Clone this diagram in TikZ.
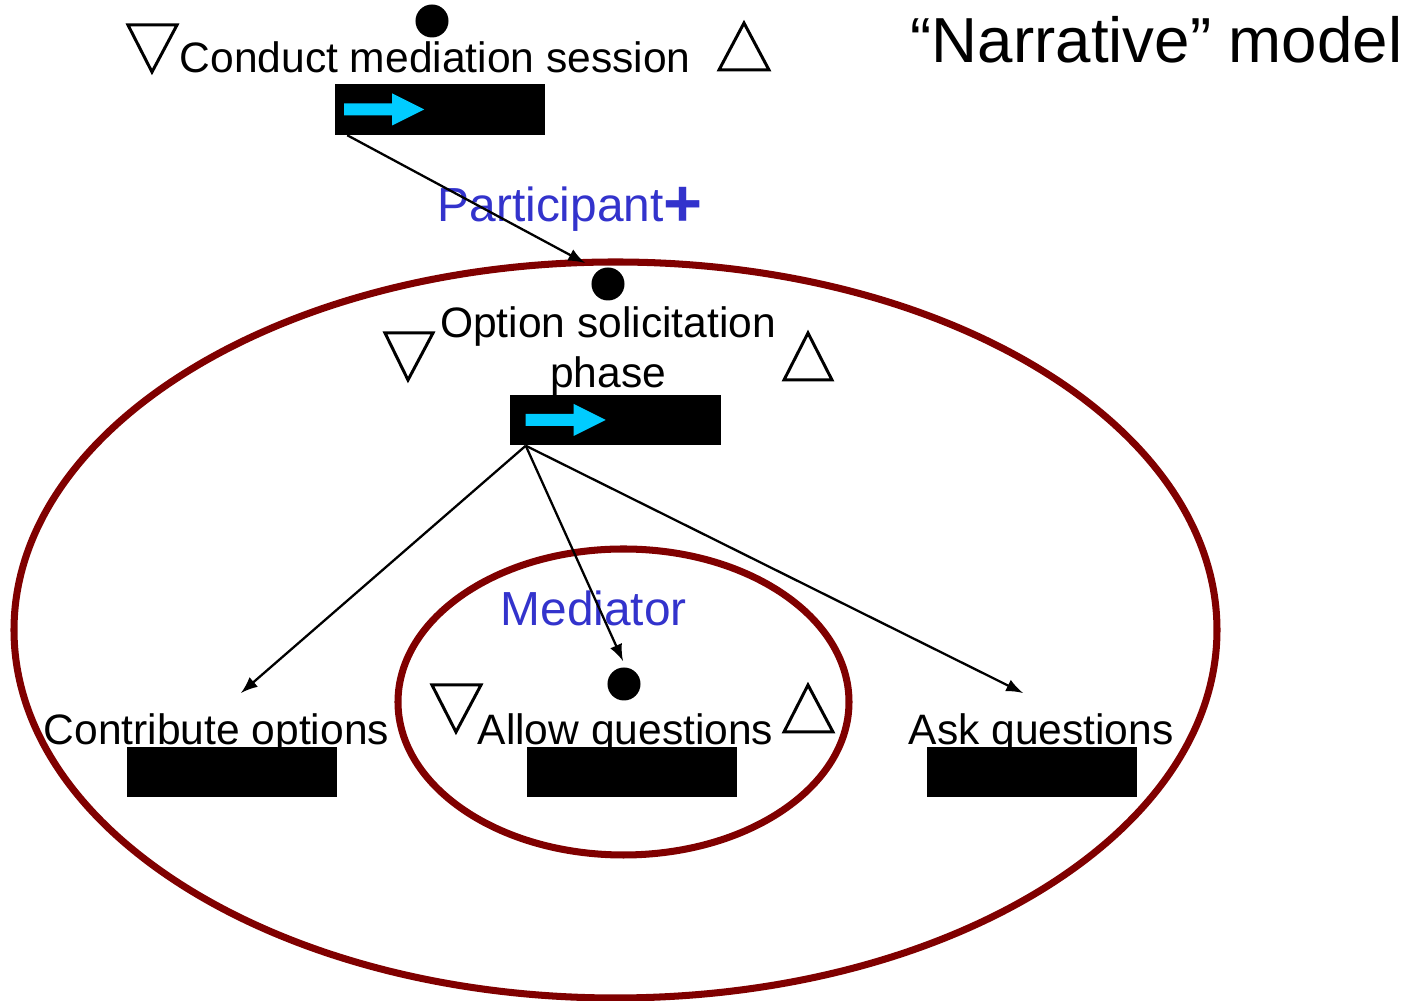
\documentclass[tikz,border=0pt]{standalone}
\usepackage{fontspec}
\setmainfont{Liberation Sans}
\usetikzlibrary{arrows}
\definecolor{mydarkred}{RGB}{128,0,0}
\definecolor{mycyan}{RGB}{0,204,255}
\definecolor{myblue}{RGB}{51,51,204}

% cyan "go" arrow inside a black activity bar (#2 = gap from the left edge)
\newcommand{\goarrow}[2]{%
  \fill[mycyan] ([shift={(#2,-6)}]#1.west) -- ++(48,0) -- ++(0,-10) -- ++(32,16)
    -- ++(-32,16) -- ++(0,-10) -- ++(-48,0) -- cycle;}

\begin{document}
\begin{tikzpicture}[x=0.01cm, y=-0.01cm,
    every node/.style={inner sep=0pt, font=\fontsize{12.1}{14.2}\selectfont},
    bar/.style={fill=black, minimum width=2.1cm, minimum height=0.5cm},
    dot/.style={circle, fill=black, minimum size=0.33cm},
    tri/.style={line width=0.85pt, line join=miter},
    link/.style={-latex, line width=0.65pt},
    role/.style={text=myblue, font=\fontsize{13.6}{16}\selectfont},
    ring/.style={mydarkred, line width=2pt}]
  \useasboundingbox (0,0) rectangle (1423,1001);

  % containers
  \draw[ring] (615.5,630) ellipse [x radius=601.5, y radius=368];
  \draw[ring] (623.5,702) ellipse [x radius=225.5, y radius=153];

  % top activity
  \node[dot] (topdot) at (432,21) {};
  \draw[tri] (128,25) -- (177,25) -- (152,72) -- cycle;
  \node[anchor=base west] (conduct) at (179,73) {Conduct mediation session};
  \draw[tri] (719,70) -- (769,70) -- (744,23) -- cycle;
  \node[bar] (topbox) at (440,109.5) {};
  \goarrow{topbox}{10}

  \node[role, anchor=base west] (participant) at (437,222)
    {Participant\raisebox{-0.05cm}{\fontsize{19}{20}\selectfont\textbf{+}}};

  % option solicitation phase
  \node[dot] (phasedot) at (608,284) {};
  \draw[tri] (385,333) -- (433,333) -- (408,380) -- cycle;
  \node[anchor=north, align=center] (optphase) at (608,306) {Option solicitation\\phase};
  \draw[tri] (784,380) -- (832,380) -- (808,333) -- cycle;
  \node[bar] (phasebox) at (615.5,420) {};
  \goarrow{phasebox}{16}

  \node[role, anchor=base west] (mediator) at (500,626) {Mediator};

  % leaf activities
  \node[anchor=base west] (contrib) at (43,745) {Contribute options};
  \node[bar] (contribbox) at (232,772) {};

  \node[dot] (allowdot) at (624,684) {};
  \draw[tri] (432,685) -- (481,685) -- (456,732) -- cycle;
  \node[anchor=base west] (allow) at (477,745) {Allow questions};
  \draw[tri] (784,732) -- (833,732) -- (808,685) -- cycle;
  \node[bar] (allowbox) at (632,772) {};

  \node[anchor=base west] (ask) at (908,745) {Ask questions};
  \node[bar] (askbox) at (1032,772) {};

  \node[anchor=base west, font=\fontsize{18.1}{21}\selectfont] (title) at (910,63) {“Narrative” model};

  % connectors
  \coordinate (phasein) at (585,263);
  \coordinate (contribin) at (241,693);
  \coordinate (allowin) at (623,661);
  \coordinate (askin) at (1023,693);
  \draw[link] ([xshift=0.13cm]topbox.south west) -- (phasein);
  \draw[link] ([xshift=0.16cm]phasebox.south west) -- (contribin);
  \draw[link] ([xshift=0.16cm]phasebox.south west) -- (allowin);
  \draw[link] ([xshift=0.16cm]phasebox.south west) -- (askin);
\end{tikzpicture}
\end{document}
